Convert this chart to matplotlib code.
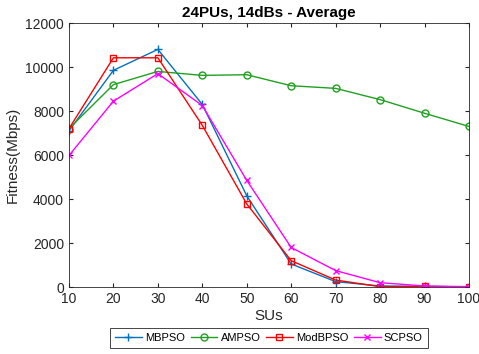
import numpy as np
import matplotlib
matplotlib.use('Agg')
import matplotlib.pyplot as plt
plt.rcParams['font.family'] = ['Liberation Sans', 'DejaVu Sans']

sus = [10, 20, 30, 40, 50, 60, 70, 80, 90, 100]
mbpso = [7100, 9850, 10800, 8300, 4150, 1050, 250, 50, 30, 10]
ampso = [7200, 9200, 9800, 9620, 9650, 9150, 9030, 8520, 7900, 7300]
modbpso = [7200, 10420, 10420, 7350, 3780, 1200, 320, 20, 30, 0]
scpso = [5980, 8450, 9700, 8250, 4850, 1800, 750, 200, 50, 20]

fig = plt.figure(figsize=(4.79, 3.54), dpi=100)
ax = fig.add_axes([0.144, 0.189, 0.835, 0.746])

ax.plot(sus, mbpso, color='#0072BD', marker='+', ms=6, lw=1, mew=1, label='MBPSO')
ax.plot(sus, ampso, color='#20A020', marker='o', ms=5, lw=1, mfc='none', label='AMPSO')
ax.plot(sus, modbpso, color='#FF0000', marker='s', ms=4.5, lw=1, mfc='none', label='ModBPSO')
ax.plot(sus, scpso, color='#FF00FF', marker='x', ms=5, lw=1, label='SCPSO')

ax.set_xlim(10, 100)
ax.set_ylim(0, 12000)
ax.set_xticks(sus)
ax.set_yticks([0, 2000, 4000, 6000, 8000, 10000, 12000])
ax.tick_params(direction='in', top=True, right=True, labelsize=10, colors='#262626', length=3)
for s in ax.spines.values():
    s.set_color('#262626')
    s.set_linewidth(0.6)
ax.set_xlabel('SUs', fontsize=11, color='#262626', labelpad=2)
ax.set_ylabel('Fitness(Mbps)', fontsize=11, color='#262626')
ax.set_title('24PUs, 14dBs - Average', fontsize=11, fontweight='bold', pad=4)

leg = ax.legend(loc='upper center', bbox_to_anchor=(0.5, -0.155), ncol=4, fontsize=8,
                fancybox=False, edgecolor='#262626', handlelength=2.4, columnspacing=0.5,
                handletextpad=0.3, borderpad=0.45, framealpha=1, borderaxespad=0)
leg.get_frame().set_linewidth(0.6)

fig.savefig('out.png', dpi=100)
